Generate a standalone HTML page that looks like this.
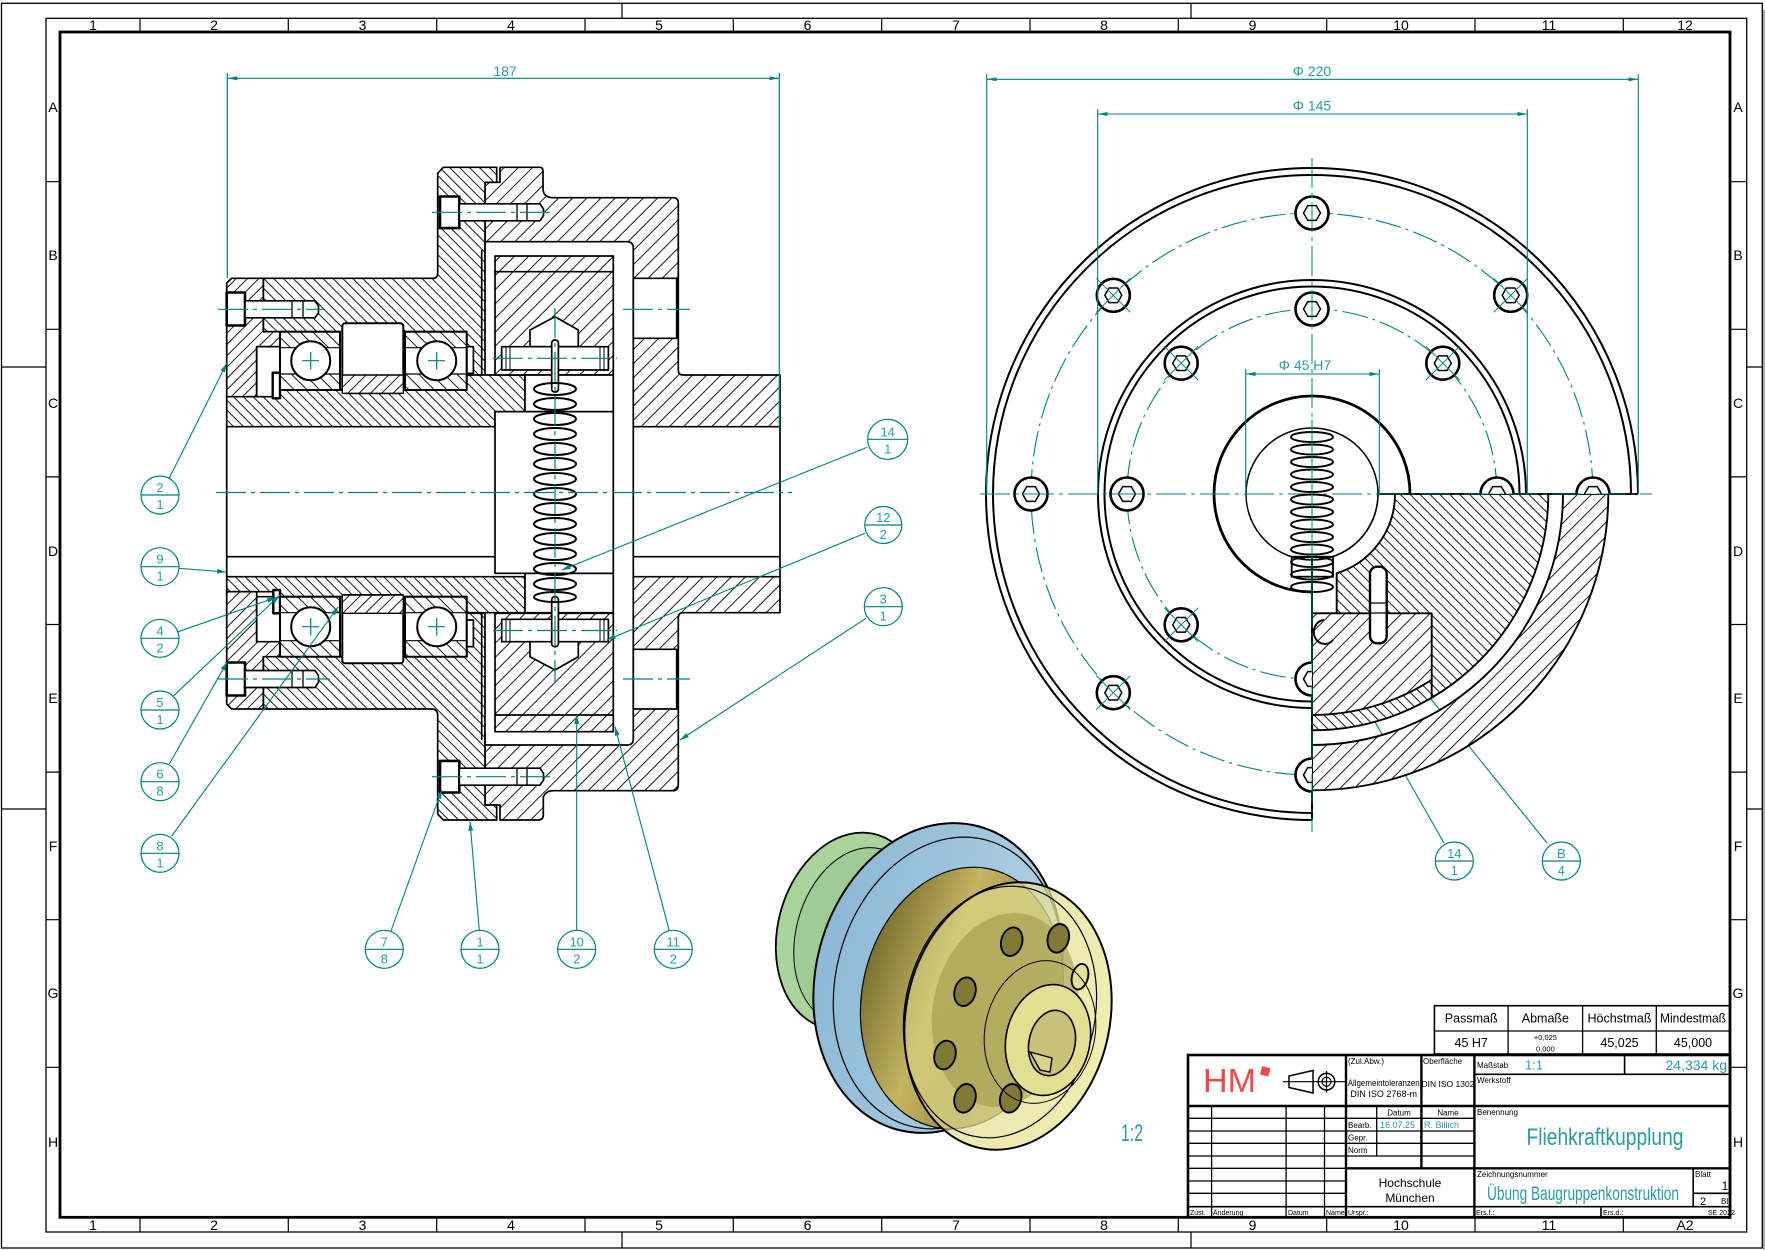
<!DOCTYPE html>
<html><head><meta charset="utf-8"><style>
html,body{margin:0;padding:0;background:#fff;}
svg{display:block;font-family:"Liberation Sans",sans-serif;}
.t{fill:#2a9ba5;}
</style></head><body>
<svg width="1765" height="1250" viewBox="0 0 1765 1250" xmlns="http://www.w3.org/2000/svg">
<defs>
<pattern id="hb" patternUnits="userSpaceOnUse" width="7" height="7" patternTransform="rotate(-45)"><rect width="7" height="7" fill="#fff"/><line x1="3.5" y1="0" x2="3.5" y2="7" stroke="#000" stroke-width="0.9"/></pattern>
<pattern id="hf" patternUnits="userSpaceOnUse" width="10" height="10" patternTransform="rotate(45)"><rect width="10" height="10" fill="#fff"/><line x1="5" y1="0" x2="5" y2="10" stroke="#000" stroke-width="0.9"/></pattern>
<pattern id="hf2" patternUnits="userSpaceOnUse" width="8" height="8" patternTransform="rotate(45)"><rect width="8" height="8" fill="#fff"/><line x1="4" y1="0" x2="4" y2="8" stroke="#000" stroke-width="0.9"/></pattern>
<pattern id="hb2" patternUnits="userSpaceOnUse" width="9" height="9" patternTransform="rotate(-45)"><rect width="9" height="9" fill="#fff"/><line x1="4.5" y1="0" x2="4.5" y2="9" stroke="#000" stroke-width="0.9"/></pattern>
<marker id="ar" markerWidth="9" markerHeight="6" refX="9" refY="3" orient="auto" markerUnits="userSpaceOnUse"><path d="M0,0.6 L9,3 L0,5.4 Z" fill="#008080"/></marker>
<marker id="da" markerWidth="10" markerHeight="6" refX="10" refY="3" orient="auto-start-reverse" markerUnits="userSpaceOnUse"><path d="M0,1 L10,3 L0,5 Z" fill="#008080"/></marker>
<g id="bolt"><circle r="16.5" fill="#fff" stroke="#000" stroke-width="2.6"/><path d="M8.5,0 L4.25,7.36 L-4.25,7.36 L-8.5,0 L-4.25,-7.36 L4.25,-7.36 Z" fill="none" stroke="#000" stroke-width="1.5"/></g>
<clipPath id="cUp"><rect x="1400" y="400" width="300" height="94"/></clipPath>
<clipPath id="cLeft"><rect x="1250" y="600" width="62" height="250"/></clipPath>
<linearGradient id="gGold" x1="0" y1="0" x2="1" y2="0.2"><stop offset="0" stop-color="#6b6124"/><stop offset="0.45" stop-color="#c4b462"/><stop offset="1" stop-color="#857a30"/></linearGradient>
<linearGradient id="gBlue" x1="0" y1="0" x2="1" y2="0"><stop offset="0" stop-color="#8db8d6"/><stop offset="1" stop-color="#b2d2e2"/></linearGradient>
<linearGradient id="gFront" x1="0" y1="0" x2="1" y2="0"><stop offset="0" stop-color="#d8d282" stop-opacity="0.55"/><stop offset="1" stop-color="#efeca8" stop-opacity="0.9"/></linearGradient>
</defs>
<rect width="1765" height="1250" fill="#fff"/>

<!-- ============ FRAME ============ -->
<g fill="none" stroke="#000">
<rect x="1.5" y="3.3" width="1760.8" height="1244.7" stroke-width="1.3"/>
<rect x="46" y="18.3" width="1700.7" height="1213.7" stroke-width="1.3"/>
<rect x="60" y="32" width="1670" height="1185.3" stroke-width="2.8"/>
<path stroke-width="1.2" d="M140,18.3V32M288.3,18.3V32M436.7,18.3V32M585,18.3V32M733.3,18.3V32M881.7,18.3V32M1030,18.3V32M1178.3,18.3V32M1326.7,18.3V32M1475,18.3V32M1623.3,18.3V32
M140,1217.3V1232M288.3,1217.3V1232M436.7,1217.3V1232M585,1217.3V1232M733.3,1217.3V1232M881.7,1217.3V1232M1030,1217.3V1232M1178.3,1217.3V1232M1326.7,1217.3V1232M1475,1217.3V1232M1623.3,1217.3V1232
M46,181.7H60M46,329.3H60M46,476.9H60M46,624.5H60M46,772.1H60M46,919.7H60M46,1067.3H60
M1730,181.7H1746.7M1730,329.3H1746.7M1730,476.9H1746.7M1730,624.5H1746.7M1730,772.1H1746.7M1730,919.7H1746.7M1730,1067.3H1746.7
M622,3.3V18.3M1191,3.3V18.3M622,1232V1248M1191,1232V1248M1.5,367H46M1.5,809H46M1746.7,367H1762.3M1746.7,809H1762.3"/>
</g>
<line x1="1764" y1="10" x2="1764" y2="1250" stroke="#aaa" stroke-width="2"/>
<g font-size="14" text-anchor="middle" fill="#000">
<text x="93" y="30">1</text><text x="214" y="30">2</text><text x="362.5" y="30">3</text><text x="511" y="30">4</text><text x="659" y="30">5</text><text x="807.5" y="30">6</text><text x="956" y="30">7</text><text x="1104" y="30">8</text><text x="1252.5" y="30">9</text><text x="1401" y="30">10</text><text x="1549" y="30">11</text><text x="1685" y="30">12</text>
<text x="93" y="1230">1</text><text x="214" y="1230">2</text><text x="362.5" y="1230">3</text><text x="511" y="1230">4</text><text x="659" y="1230">5</text><text x="807.5" y="1230">6</text><text x="956" y="1230">7</text><text x="1104" y="1230">8</text><text x="1252.5" y="1230">9</text><text x="1401" y="1230">10</text><text x="1549" y="1230">11</text><text x="1685" y="1230">A2</text>
<text x="53" y="112">A</text><text x="53" y="260">B</text><text x="53" y="408">C</text><text x="53" y="556">D</text><text x="53" y="703">E</text><text x="53" y="851">F</text><text x="53" y="998">G</text><text x="53" y="1147">H</text>
<text x="1738" y="112">A</text><text x="1738" y="260">B</text><text x="1738" y="408">C</text><text x="1738" y="556">D</text><text x="1738" y="703">E</text><text x="1738" y="851">F</text><text x="1738" y="998">G</text><text x="1738" y="1147">H</text>
</g>

<!-- ============ LEFT SECTION VIEW ============ -->
<g stroke="#000" stroke-width="1.7" stroke-linejoin="round">
<!-- housing part 3 -->
<path fill="url(#hf)" d="M500,167.3 H540 Q543,167.3 543,171 V188 Q543,197.7 553,197.7 H673 Q678.3,197.7 678.3,203 V370 Q678.3,375 683,375 H780 V426.7 H633.3 V248 Q633.3,241.7 627,241.7 H485 V182.3 H500 Z"/>
<path fill="url(#hf)" d="M485,745 H627 Q633.3,745 633.3,739 V576.7 H780 V612.7 H683 Q678.3,612.7 678.3,618 V785 Q678.3,790.7 673,790.7 H553 Q546,790.7 543.3,797 V815 Q543.3,820 538,820 H500 V805 H485 Z"/>
<!-- part 1 hub flange -->
<path fill="url(#hb)" d="M263.3,278.3 H433 Q437.7,278.3 437.7,273 V173.3 L443.3,167.3 H496.7 V182.3 H485 V375 H466.7 V331.7 H263.3 Z"/>
<path fill="url(#hb)" d="M263.3,709 H432 Q437.7,709 437.7,716 V814 L443.3,820 H496.7 V805 H485 V613.3 H466.7 V656.7 H263.3 Z"/>
<!-- sleeves -->
<path fill="url(#hb)" d="M226.7,396.7 H280 V390 H466.7 V375 H525 V411.7 H495 V426.7 H226.7 Z"/>
<path fill="url(#hb)" d="M226.7,576.7 H525 V612.7 H466.7 V596.7 H280 V591.7 H226.7 Z"/>
<!-- covers part 2 -->
<path fill="url(#hf2)" d="M226.7,283 L231.7,278.3 H263.3 V331.7 H280 V346.7 H256.7 V396.7 H226.7 Z"/>
<path fill="url(#hf2)" d="M226.7,591.7 H256.7 V641.7 H280 V656.7 H263.3 V709 H231.7 L226.7,704 Z"/>
<!-- retaining rings / pins -->
<rect x="256.7" y="346.7" width="23.3" height="50" fill="#fff"/>
<rect x="256.7" y="596.7" width="23.3" height="45" fill="#fff"/>
<rect x="272.7" y="372.7" width="7.3" height="25.6" fill="#fff" stroke-width="2.4"/>
<rect x="273.3" y="590" width="6.7" height="23.3" fill="#fff" stroke-width="2.4"/>
<rect x="466.7" y="346.7" width="6.7" height="26.6" fill="#fff"/>
<rect x="466.7" y="620" width="6.7" height="26.6" fill="#fff"/>
<!-- bearings upper -->
<rect x="280" y="331.7" width="60" height="58.3" fill="#fff"/>
<rect x="280" y="331.7" width="60" height="16" fill="url(#hb2)" stroke-width="1.2"/>
<rect x="280" y="374" width="60" height="16" fill="url(#hb2)" stroke-width="1.2"/>
<rect x="280" y="331.7" width="60" height="58.3" fill="none" stroke-width="2"/>
<circle cx="310.7" cy="360.7" r="19.5" fill="#fff" stroke-width="2"/>
<rect x="405" y="331.7" width="61.7" height="58.3" fill="#fff"/>
<rect x="405" y="331.7" width="61.7" height="16" fill="url(#hb2)" stroke-width="1.2"/>
<rect x="405" y="374" width="61.7" height="16" fill="url(#hb2)" stroke-width="1.2"/>
<rect x="405" y="331.7" width="61.7" height="58.3" fill="none" stroke-width="2"/>
<circle cx="436.7" cy="360.7" r="19.5" fill="#fff" stroke-width="2"/>
<rect x="342.3" y="323.3" width="61" height="70" rx="3" fill="#fff" stroke-width="2"/>
<rect x="342.3" y="375" width="61" height="18.3" fill="url(#hf2)" stroke-width="1.4"/>
<!-- bearings lower -->
<rect x="280" y="596.7" width="60" height="60" fill="#fff"/>
<rect x="280" y="596.7" width="60" height="16" fill="url(#hb2)" stroke-width="1.2"/>
<rect x="280" y="640.7" width="60" height="16" fill="url(#hb2)" stroke-width="1.2"/>
<rect x="280" y="596.7" width="60" height="60" fill="none" stroke-width="2"/>
<circle cx="310.7" cy="626.7" r="19.5" fill="#fff" stroke-width="2"/>
<rect x="405" y="596.7" width="61.7" height="60" fill="#fff"/>
<rect x="405" y="596.7" width="61.7" height="16" fill="url(#hb2)" stroke-width="1.2"/>
<rect x="405" y="640.7" width="61.7" height="16" fill="url(#hb2)" stroke-width="1.2"/>
<rect x="405" y="596.7" width="61.7" height="60" fill="none" stroke-width="2"/>
<circle cx="436.7" cy="626.7" r="19.5" fill="#fff" stroke-width="2"/>
<rect x="342.3" y="595" width="61" height="68.3" rx="3" fill="#fff" stroke-width="2"/>
<rect x="342.3" y="595" width="61" height="18.3" fill="url(#hf2)" stroke-width="1.4"/>
<!-- flyweight blocks -->
<rect x="495" y="256" width="118.3" height="119" fill="url(#hf)"/>
<line x1="495" y1="271.7" x2="613.3" y2="271.7"/>
<rect x="495" y="613.3" width="118.3" height="118.4" fill="url(#hf)"/>
<line x1="495" y1="715" x2="613.3" y2="715"/>
<path d="M530,346.7 V330 L555,316.7 L578.3,330 V346.7 Z" fill="#fff"/>
<path d="M530,641.7 V656.7 L555,670 L578.3,656.7 V641.7 Z" fill="#fff"/>
<rect x="501.7" y="346.7" width="106.7" height="23.3" fill="#fff"/>
<rect x="501.7" y="619.3" width="106.7" height="22.4" fill="#fff"/>
<path d="M506,346.7V370M510,346.7V370M600,346.7V370M604,346.7V370M506,619.3V641.7M510,619.3V641.7M600,619.3V641.7M604,619.3V641.7" stroke-width="1"/>
<!-- spring pockets -->
<rect x="525" y="375" width="88.3" height="36.7" fill="#fff"/>
<rect x="525" y="573.3" width="88.3" height="39.4" fill="#fff"/>
<rect x="495" y="411.7" width="118.3" height="161.6" fill="#fff"/>
<rect x="551.7" y="340" width="6.7" height="52" rx="3" fill="#fff"/>
<rect x="551.7" y="596.7" width="6.7" height="50" rx="3" fill="#fff"/>
<!-- bore lines -->
<path fill="none" d="M226.7,426.7V576.7M226.7,556.7H495M633.3,556.7H780M780,426.7V576.7M633.3,426.7V576.7M481.7,250V375M481.7,613V740M485,241.7V256M485,731.7V745"/>
<!-- spring -->
<g fill="none" stroke-width="2">
<ellipse cx="555" cy="389" rx="21" ry="6"/><ellipse cx="555" cy="404" rx="21" ry="6"/><ellipse cx="555" cy="419" rx="21" ry="6"/><ellipse cx="555" cy="434" rx="21" ry="6"/><ellipse cx="555" cy="449" rx="21" ry="6"/><ellipse cx="555" cy="464" rx="21" ry="6"/><ellipse cx="555" cy="479" rx="21" ry="6"/><ellipse cx="555" cy="494" rx="21" ry="6"/><ellipse cx="555" cy="509" rx="21" ry="6"/><ellipse cx="555" cy="524" rx="21" ry="6"/><ellipse cx="555" cy="539" rx="21" ry="6"/><ellipse cx="555" cy="554" rx="21" ry="6"/><ellipse cx="555" cy="569" rx="21" ry="6"/><ellipse cx="555" cy="584" rx="21" ry="6"/><ellipse cx="555" cy="597" rx="21" ry="5"/>
</g>
<!-- holes in housing -->
<rect x="633.3" y="278.3" width="43.4" height="60" fill="#fff"/>
<rect x="633.3" y="649.3" width="43.4" height="59.7" fill="#fff"/>
<!-- bolts -->
<g fill="#fff">
<rect x="440" y="196.5" width="19.3" height="31.6" stroke-width="2.6"/>
<path d="M459.3,203.8 H540 L543.5,209 V215.6 L540,220.8 H459.3 Z"/>
<path d="M517,203.8V220.8M527,203.8V220.8" fill="none" stroke-width="1.3"/>
<rect x="440" y="760.9" width="19.3" height="31.6" stroke-width="2.6"/>
<path d="M459.3,768.2 H540 L543.5,773.4 V780 L540,785.2 H459.3 Z"/>
<path d="M517,768.2V785.2M527,768.2V785.2" fill="none" stroke-width="1.3"/>
<rect x="226.7" y="292.5" width="18.3" height="33" stroke-width="2.6"/>
<path d="M245,300.8 H315 L318.5,306 V312.6 L315,317.8 H245 Z"/>
<path d="M292,300.8V317.8M303,300.8V317.8" fill="none" stroke-width="1.3"/>
<rect x="226.7" y="662.5" width="18.3" height="33" stroke-width="2.6"/>
<path d="M245,670.5 H315 L318.5,675.7 V682.3 L315,687.5 H245 Z"/>
<path d="M292,670.5V687.5M303,670.5V687.5" fill="none" stroke-width="1.3"/>
</g>
</g>
<!-- left view teal centerlines -->
<g stroke="#008080" stroke-width="1.2" fill="none">
<path stroke-dasharray="30 5 4 5" d="M216,492.5H792M432,212.3H552M218,309.3H325M218,679H330M432,776.7H552M623,309.3H690M623,679H690M493,358.3H617M493,630.5H617"/>
<path stroke-dasharray="30 5 4 5" d="M555,308V682"/>
<path d="M302,360.7H319M310.7,352V369.5M428,360.7H445M436.7,352V369.5M302,626.7H319M310.7,618V635.5M428,626.7H445M436.7,618V635.5"/>
<!-- dimension 187 -->
<path d="M227.3,73V278M779.3,73V426.7"/>
<path d="M227.3,78.3H779.3" marker-start="url(#da)" marker-end="url(#da)"/>
</g>
<text x="505" y="76" font-size="14" text-anchor="middle" class="t">187</text>

<!-- leaders & balloons left view -->
<g stroke="#008080" stroke-width="1.1" fill="none" marker-end="url(#ar)">
<line x1="169.3" y1="478" x2="226.7" y2="363.3"/>
<line x1="178.3" y1="568.3" x2="226" y2="572"/>
<line x1="178.3" y1="631.7" x2="276" y2="597.5"/>
<line x1="172.7" y1="696.7" x2="280" y2="595"/>
<line x1="169.3" y1="764" x2="227.3" y2="661.7"/>
<line x1="171.7" y1="836" x2="338.3" y2="606.7"/>
<line x1="391" y1="931" x2="441.7" y2="790"/>
<line x1="479.3" y1="930.7" x2="470" y2="821.7"/>
<line x1="576.7" y1="930.7" x2="576.7" y2="715"/>
<line x1="669.3" y1="930.7" x2="615" y2="726.7"/>
<line x1="867.3" y1="447.3" x2="561.7" y2="570"/>
<line x1="865" y1="533.3" x2="606.7" y2="640"/>
<line x1="866" y1="618.3" x2="680" y2="740"/>
<line x1="1444" y1="843" x2="1328.3" y2="640"/>
<line x1="1547" y1="843" x2="1383.3" y2="640"/>
</g>
<g stroke="#008080" stroke-width="1.2" fill="#fff">
<circle cx="160" cy="495" r="19"/><circle cx="160" cy="566.7" r="19"/><circle cx="160" cy="638.3" r="19"/><circle cx="160" cy="710" r="19"/><circle cx="160" cy="781.7" r="19"/><circle cx="160" cy="853.3" r="19"/>
<circle cx="384.3" cy="949.3" r="19"/><circle cx="480" cy="949.3" r="19"/><circle cx="576.7" cy="949.3" r="19"/><circle cx="673.3" cy="949.3" r="19"/>
<circle cx="887.7" cy="439.3" r="20"/><circle cx="883.3" cy="525" r="18.5"/><circle cx="883.3" cy="606.7" r="19"/>
<circle cx="1454.3" cy="861" r="19"/><circle cx="1561.3" cy="861" r="19"/>
<path fill="none" d="M141,495H179M141,566.7H179M141,638.3H179M141,710H179M141,781.7H179M141,853.3H179M365.3,949.3H403.3M461,949.3H499M557.7,949.3H595.7M654.3,949.3H692.3M867.7,439.3H907.7M864.8,525H901.8M864.3,606.7H902.3M1435.3,861H1473.3M1542.3,861H1580.3"/>
</g>
<g font-size="13" text-anchor="middle" class="t">
<text x="160" y="492">2</text><text x="160" y="509">1</text>
<text x="160" y="563.7">9</text><text x="160" y="580.7">1</text>
<text x="160" y="635.3">4</text><text x="160" y="652.3">2</text>
<text x="160" y="707">5</text><text x="160" y="724">1</text>
<text x="160" y="778.7">6</text><text x="160" y="795.7">8</text>
<text x="160" y="850.3">8</text><text x="160" y="867.3">1</text>
<text x="384.3" y="946.3">7</text><text x="384.3" y="963.3">8</text>
<text x="480" y="946.3">1</text><text x="480" y="963.3">1</text>
<text x="576.7" y="946.3">10</text><text x="576.7" y="963.3">2</text>
<text x="673.3" y="946.3">11</text><text x="673.3" y="963.3">2</text>
<text x="887.7" y="436.3">14</text><text x="887.7" y="453.3">1</text>
<text x="883.3" y="522">12</text><text x="883.3" y="539">2</text>
<text x="883.3" y="603.7">3</text><text x="883.3" y="620.7">1</text>
<text x="1454.3" y="858">14</text><text x="1454.3" y="875">1</text>
<text x="1561.3" y="858">B</text><text x="1561.3" y="875">4</text>
</g>

<!-- ============ RIGHT VIEW ============ -->
<g fill="none" stroke="#008080" stroke-width="1.1" stroke-dasharray="26 5 3 5">
<path d="M1593,494 A281,281 0 0 0 1031,494 A281,281 0 0 0 1312,775"/>
<path d="M1497,494 A185,185 0 0 0 1127,494 A185,185 0 0 0 1312,679"/>
</g>
<g fill="none" stroke="#000" stroke-width="2">
<path d="M1638,494 A326,326 0 0 0 986,494 A326,326 0 0 0 1312,820"/>
<path d="M1631,494 A319,319 0 0 0 993,494 A319,319 0 0 0 1312,813"/>
<path d="M1526,494 A214,214 0 0 0 1098,494 A214,214 0 0 0 1312,708"/>
<path d="M1519.5,494 A207.5,207.5 0 0 0 1104.5,494 A207.5,207.5 0 0 0 1312,701.5"/>
<path stroke-width="2.8" d="M1410,494 A98,98 0 0 0 1214,494 A98,98 0 0 0 1312,592"/>
<circle cx="1312" cy="494" r="66" stroke-width="1.5"/>
<path d="M1378,494H1638.3"/>
</g>
<!-- section lower right -->
<g stroke="#000" stroke-width="1.9" stroke-linejoin="round">
<path fill="url(#hb)" d="M1395,494 L1548.3,494 A236.3,236.3 0 0 1 1312,730.3 L1312,613.3 L1336.7,613.3 L1336.7,573.3 A83,83 0 0 0 1395,494 Z"/>
<path fill="url(#hf)" d="M1312,613.3 L1431.7,613.3 L1431.7,679.8 A221,221 0 0 1 1312,715 Z"/>
<path fill="none" d="M1431.7,679.8V698.3"/>
<path fill="url(#hf)" d="M1563,494 L1608.3,494 A296.3,296.3 0 0 1 1312,790.3 L1312,745 A251,251 0 0 0 1563,494 Z"/>
<path fill="none" stroke-width="1.5" d="M1378,494 A66,66 0 0 1 1336.7,555"/>
<rect x="1370" y="566.7" width="16.7" height="76.6" rx="7" fill="#fff" stroke-width="2.4"/>
<path fill="none" stroke-width="1.3" d="M1370,603H1386.7M1370,613H1386.7"/>
<path fill="none" d="M1324,620 A11,12 0 1 0 1333,640"/>
<line x1="1312" y1="556" x2="1312" y2="820" stroke-width="2"/>
</g>
<!-- bolts right view -->
<use href="#bolt" x="1312" y="213"/>
<use href="#bolt" x="1510.7" y="295.3"/>
<use href="#bolt" x="1113.3" y="295.3"/>
<use href="#bolt" x="1031" y="494"/>
<use href="#bolt" x="1113.3" y="692.7"/>
<use href="#bolt" x="1312" y="309"/>
<use href="#bolt" x="1442.8" y="363.2"/>
<use href="#bolt" x="1181.2" y="363.2"/>
<use href="#bolt" x="1127" y="494"/>
<use href="#bolt" x="1181.2" y="624.8"/>
<g clip-path="url(#cUp)"><use href="#bolt" x="1497" y="494"/><use href="#bolt" x="1593" y="494"/></g>
<g clip-path="url(#cLeft)"><use href="#bolt" x="1312" y="679"/><use href="#bolt" x="1312" y="775"/></g>
<g stroke="#008080" stroke-width="1">
<path d="M1493.7,278.3L1527.7,312.3M1493.7,312.3L1527.7,278.3M1096.3,278.3L1130.3,312.3M1096.3,312.3L1130.3,278.3M1096.3,675.7L1130.3,709.7M1096.3,709.7L1130.3,675.7M1425.8,346.2L1459.8,380.2M1425.8,380.2L1459.8,346.2M1164.2,346.2L1198.2,380.2M1164.2,380.2L1198.2,346.2M1164.2,607.8L1198.2,641.8M1164.2,641.8L1198.2,607.8"/>
<path stroke-dasharray="30 5 4 5" d="M980,494H1652M1312,158V832"/>
</g>
<!-- spring right view -->
<g fill="none" stroke="#000" stroke-width="2">
<ellipse cx="1312" cy="437" rx="21" ry="5"/><ellipse cx="1312" cy="449.5" rx="21" ry="5"/><ellipse cx="1312" cy="462" rx="21" ry="5"/><ellipse cx="1312" cy="474.5" rx="21" ry="5"/><ellipse cx="1312" cy="487" rx="21" ry="5"/><ellipse cx="1312" cy="499.5" rx="21" ry="5"/><ellipse cx="1312" cy="512" rx="21" ry="5"/><ellipse cx="1312" cy="524.5" rx="21" ry="5"/><ellipse cx="1312" cy="537" rx="21" ry="5"/><ellipse cx="1312" cy="549.5" rx="21" ry="5"/><ellipse cx="1312" cy="562" rx="21" ry="5"/><ellipse cx="1312" cy="574.5" rx="21" ry="5"/><ellipse cx="1312" cy="587" rx="21" ry="5"/>
<rect x="1291.7" y="556.7" width="41.3" height="20" stroke-width="1.8"/>
</g>
<line x1="1312" y1="420" x2="1312" y2="600" stroke="#008080" stroke-width="1"/>
<!-- dimensions right view -->
<g stroke="#008080" stroke-width="1.1" fill="none">
<path d="M986.7,74V494M1638.3,74V494M1097.7,109V494M1527.3,109V494M1245.7,369V494M1379.3,369V494"/>
<path d="M986.7,79.3H1638.3" marker-start="url(#da)" marker-end="url(#da)"/>
<path d="M1097.7,114H1527.3" marker-start="url(#da)" marker-end="url(#da)"/>
<path d="M1245.7,374H1379.3" marker-start="url(#da)" marker-end="url(#da)"/>
</g>
<g font-size="14" text-anchor="middle" class="t">
<text x="1312" y="76">Φ 220</text>
<text x="1312" y="110.5">Φ 145</text>
<text x="1305" y="370">Φ 45 H7</text>
</g>

<!-- ============ 3D VIEW ============ -->
<g stroke="#000">
<ellipse cx="850" cy="931" rx="72" ry="100" transform="rotate(15 850 931)" fill="#a9d49c" stroke-width="1.8"/>
<ellipse cx="858" cy="936" rx="62" ry="90" transform="rotate(15 858 936)" fill="#9fcc96" stroke-width="1"/>
<ellipse cx="888" cy="955" rx="58" ry="90" transform="rotate(15 888 955)" fill="#6e9fc6" stroke-width="1"/>
<ellipse cx="938" cy="978" rx="122" ry="157" transform="rotate(15 938 978)" fill="url(#gBlue)" stroke-width="2"/>
<ellipse cx="948" cy="983" rx="112" ry="148" transform="rotate(15 948 983)" fill="none" stroke-width="1.2"/>
<ellipse cx="962" cy="998" rx="100" ry="132" transform="rotate(12 962 998)" fill="url(#gGold)" stroke-width="1.2"/>
<ellipse cx="1008" cy="1016" rx="102" ry="135" transform="rotate(12 1008 1016)" fill="url(#gFront)" stroke-width="2"/>
<ellipse cx="1000" cy="1012" rx="95" ry="127" transform="rotate(12 1000 1012)" fill="none" stroke-width="1.2"/>
<ellipse cx="1005" cy="1010" rx="72" ry="98" transform="rotate(12 1005 1010)" fill="#9c9446" fill-opacity="0.55" stroke="none"/>
<g fill="#807a34" stroke-width="1.9">
<ellipse cx="1011.7" cy="941.7" rx="10.5" ry="14.5" transform="rotate(15 1011.7 941.7)"/>
<ellipse cx="1058.3" cy="938.3" rx="10.5" ry="14.5" transform="rotate(15 1058.3 938.3)"/>
<ellipse cx="965" cy="991.7" rx="10.5" ry="14.5" transform="rotate(15 965 991.7)"/>
<ellipse cx="945" cy="1055" rx="10.5" ry="14.5" transform="rotate(15 945 1055)"/>
<ellipse cx="965" cy="1098.3" rx="10.5" ry="14.5" transform="rotate(15 965 1098.3)"/>
<ellipse cx="1010.7" cy="1098.3" rx="10.5" ry="14.5" transform="rotate(15 1010.7 1098.3)"/>
<ellipse cx="1080" cy="976.7" rx="8" ry="13" transform="rotate(15 1080 976.7)" fill="#e6e29a"/>
</g>
<ellipse cx="1040" cy="1032" rx="55" ry="72" transform="rotate(12 1040 1032)" fill="none" stroke-width="1"/>
<ellipse cx="1048" cy="1040" rx="42" ry="56" transform="rotate(12 1048 1040)" fill="#e3df92" stroke-width="1.6"/>
<ellipse cx="1052" cy="1043" rx="23" ry="33" transform="rotate(12 1052 1043)" fill="#c9c27a" stroke-width="1.6"/>
<path d="M1030,1052 L1052,1058 L1050,1072 L1040,1070 Z" fill="#d8d38a" stroke-width="1.4"/>
</g>
<text x="1132" y="1141" font-size="24" text-anchor="middle" class="t" textLength="22" lengthAdjust="spacingAndGlyphs">1:2</text>

<!-- ============ TITLE BLOCK ============ -->
<g fill="none" stroke="#000">
<rect x="1434.4" y="1005.7" width="295.3" height="48.3" stroke-width="1.6"/>
<path stroke-width="1.3" d="M1508.1,1005.7V1054M1582.6,1005.7V1054M1656.3,1005.7V1054M1434.4,1031H1729.7"/>
<rect x="1188" y="1055" width="542" height="162.3" stroke-width="2.6"/>
<path stroke-width="2.4" d="M1188,1106H1730M1346,1055V1217.3M1474.4,1055V1217.3M1421.4,1055V1168.3M1346,1168.3H1730"/>
<path stroke-width="1.6" d="M1188,1206.7H1730M1474.4,1074.3H1730M1624.6,1055V1074.3M1693.2,1168.3V1206.7M1693.2,1193.3H1730M1601,1206.7V1217.3"/>
<path stroke-width="1.3" d="M1211.6,1106V1217.3M1286.1,1106V1217.3M1324.5,1106V1217.3M1188,1118.3H1346M1188,1131H1346M1188,1143.3H1346M1188,1156H1346M1188,1168.3H1346M1188,1181H1346M1188,1193.3H1346M1346,1118.3H1474.4M1346,1131H1474.4M1346,1143.3H1474.4M1346,1156H1474.4M1376.7,1106V1156"/>
</g>
<g font-size="12.5" text-anchor="middle" fill="#000">
<text x="1471.2" y="1022.5">Passmaß</text><text x="1545.4" y="1022.5">Abmaße</text><text x="1619.5" y="1022.5" textLength="64" lengthAdjust="spacingAndGlyphs">Höchstmaß</text><text x="1693" y="1022.5" textLength="66" lengthAdjust="spacingAndGlyphs">Mindestmaß</text>
<text x="1471.2" y="1047">45 H7</text><text x="1619.5" y="1047">45,025</text><text x="1693" y="1047">45,000</text>
<text x="1545.4" y="1040" font-size="7.5">+0,025</text><text x="1545.4" y="1051.5" font-size="7.5">0,000</text>
</g>
<text x="1203" y="1092" font-size="33" fill="#f24a4a" textLength="53" lengthAdjust="spacingAndGlyphs">HM</text>
<rect x="1261" y="1067" width="8.6" height="8.6" fill="#f24a4a" transform="rotate(15 1265 1071)"/>
<g fill="none" stroke="#000" stroke-width="1.2">
<path d="M1283,1081.7H1346M1326.5,1071V1092.5"/>
<path d="M1289,1076 L1313,1070.5 V1093 L1289,1087.5 Z" stroke-width="1.5"/>
<circle cx="1326.5" cy="1081.7" r="8.3" stroke-width="1.5"/><circle cx="1326.5" cy="1081.7" r="4.5"/>
</g>
<g font-size="8" fill="#000">
<text x="1348" y="1064">(Zul.Abw.)</text>
<text x="1383.7" y="1086" text-anchor="middle" font-size="9" textLength="72" lengthAdjust="spacingAndGlyphs">Allgemeintoleranzen</text>
<text x="1383.7" y="1097" text-anchor="middle" font-size="9">DIN ISO 2768-m</text>
<text x="1423" y="1064">Oberfläche</text>
<text x="1448" y="1087" text-anchor="middle" font-size="8.5">DIN ISO 1302</text>
<text x="1477" y="1068">Maßstab</text>
<text x="1477" y="1083">Werkstoff</text>
<text x="1399" y="1115.5" text-anchor="middle">Datum</text><text x="1448" y="1115.5" text-anchor="middle">Name</text>
<text x="1348" y="1128">Bearb.</text><text x="1348" y="1140.5">Gepr.</text><text x="1348" y="1153">Norm</text>
<text x="1477" y="1115">Benennung</text>
<text x="1477" y="1177">Zeichnungsnummer</text>
<text x="1695" y="1177">Blatt</text>
<text x="1721" y="1204">Bl.</text>
<text x="1190" y="1215" font-size="7">Zust.</text><text x="1213" y="1215" font-size="7">Änderung</text><text x="1288" y="1215" font-size="7">Datum</text><text x="1326" y="1215" font-size="7">Name</text>
<text x="1348" y="1215" font-size="7">Urspr.:</text><text x="1476" y="1215" font-size="7">Ers.f.:</text><text x="1603" y="1215" font-size="7">Ers.d.:</text><text x="1708" y="1215" font-size="7">SE 2022</text>
</g>
<g fill="#000" text-anchor="middle">
<text x="1410" y="1187" font-size="12">Hochschule</text>
<text x="1410" y="1202" font-size="12">München</text>
<text x="1725" y="1190" font-size="12">1</text>
<text x="1703" y="1205" font-size="11">2</text>
</g>
<g class="t">
<text x="1534" y="1069.5" font-size="13" text-anchor="middle">1:1</text>
<text x="1727" y="1070" font-size="14" text-anchor="end">24,334 kg</text>
<text x="1380" y="1128" font-size="9">16.07.25</text>
<text x="1424" y="1128" font-size="9">R. Billich</text>
<text x="1605" y="1145" font-size="24" text-anchor="middle" textLength="157" lengthAdjust="spacingAndGlyphs">Fliehkraftkupplung</text>
<text x="1583" y="1200" font-size="19" text-anchor="middle" textLength="192" lengthAdjust="spacingAndGlyphs">Übung Baugruppenkonstruktion</text>
</g>
</svg>
</body></html>
